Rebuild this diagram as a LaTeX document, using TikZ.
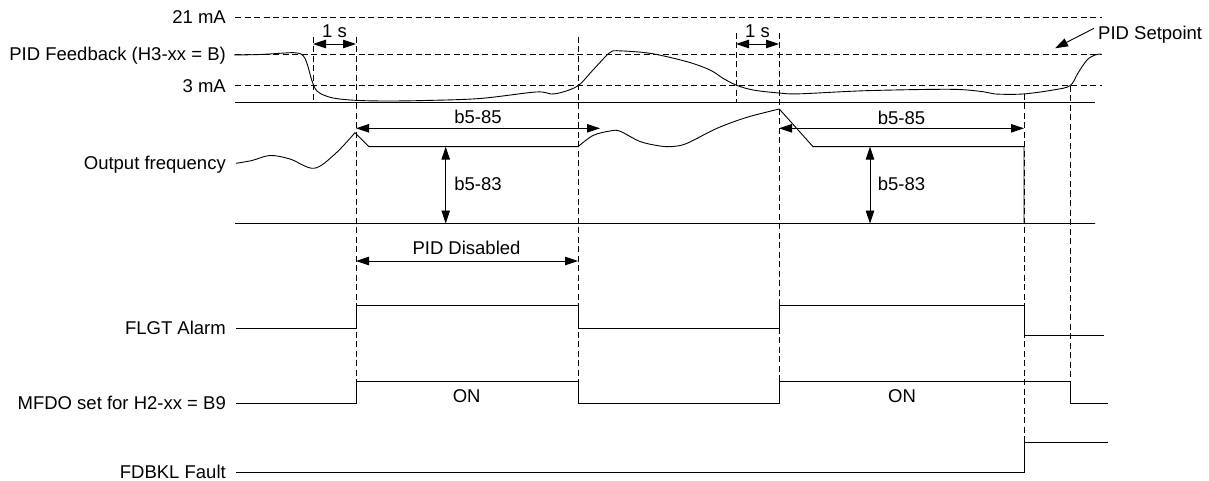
\documentclass[tikz,border=0pt]{standalone}
\usepackage{fontspec}
\setmainfont{Liberation Sans}
\usetikzlibrary{arrows.meta}
\begin{document}
\begin{tikzpicture}[x=1pt,y=-1pt,
  lbl/.style={font=\fontsize{18.5}{22}\selectfont, inner sep=0pt},
  ylbl/.style={lbl, anchor=base east},
  guide/.style={dash pattern=on 6pt off 3.5pt, line width=0.8pt},
  sig/.style={line width=1pt, line join=miter},
  curve/.style={line width=0.9pt, line join=round},
  dimarrow/.style={line width=0.9pt, {Triangle[length=13pt,width=8.5pt]}-{Triangle[length=13pt,width=8.5pt]}},
  onearrow/.style={line width=0.9pt, -{Triangle[length=13pt,width=8.5pt]}},
]
\useasboundingbox (0,0) rectangle (1209,481);

% ---- time markers and levels
\coordinate (t0) at (235,0);
\coordinate (tA) at (313,0);
\coordinate (tB) at (356,0);
\coordinate (tC) at (578,0);
\coordinate (tD) at (736,0);
\coordinate (tE) at (779,0);
\coordinate (tF) at (1024,0);
\coordinate (tG) at (1070,0);
\coordinate (tH) at (1101.5,0);

% ---- level labels
\node[ylbl] (l21)  at (226,23.8) {21 mA};
\node[ylbl] (lfb)  at (226,60.5) {PID Feedback (H3-xx = B)};
\node[ylbl] (l3)   at (226,92.2) {3 mA};
\node[ylbl] (lof)  at (226,169.5) {Output frequency};
\node[ylbl] (lfl)  at (226,334.8) {FLGT Alarm};
\node[ylbl] (lmf)  at (226,409.8) {MFDO set for H2-xx = B9};
\node[ylbl] (lfd)  at (226,478.5) {FDBKL Fault};

% ---- horizontal dashed levels
\coordinate (h21a) at (235,17.3);  \coordinate (h21b) at (1101.5,17.3);
\coordinate (hspa) at (235,54);    \coordinate (hspb) at (1101.5,54);
\coordinate (h3a)  at (235,85.7);  \coordinate (h3b)  at (1101.5,85.7);
\draw[guide] (h21a) -- (h21b);
\draw[guide] (hspa) -- (hspb);
\draw[guide] (h3a) -- (h3b);

% ---- baselines
\coordinate (bfa) at (235,102.5); \coordinate (bfb) at (1095,102.5);
\coordinate (boa) at (235,223.5); \coordinate (bob) at (1095,223.5);
\draw[sig] (bfa) -- (bfb);
\draw[sig] (boa) -- (bob);

% ---- vertical dashed guides
\draw[guide] (tA |- 0,37) -- (tA |- bfa);
\draw[guide] (tB |- 0,37) -- (tB |- 0,381);
\draw[guide] (tC |- 0,37) -- (tC |- 0,381);
\draw[guide] (tD |- 0,33) -- (tD |- bfa);
\draw[guide] (tE |- 0,33) -- (tE |- 0,381);
\draw[guide] (tF |- 0,94) -- (tF |- 0,442);
\draw[guide] (tG |- 0,86) -- (tG |- 0,381);

% ---- PID feedback curve
\draw[curve] plot[smooth, tension=0.55] coordinates {
 (234,55) (260,54.5) (285,53) (294,52.7) (301,54) (305,58.3) (308,66.7)
 (311.7,80) (315,88.3) (320,93.3) (333,98) (355,100.3) (385,101) (425,100.5)
 (480,98.5) (536,92) (551,94) (563,92) (578.3,85.5) (593,70) (607,55) (612,51.5)};
\draw[curve] plot[smooth, tension=0.55] coordinates {
 (612,51.5) (617,50.7) (650,53.3) (687,61.7) (710,70) (723,78.3) (736,85)
 (753,90) (779,93) (800,93.8) (866,90.7) (950,89.3) (983,91.7) (995,94)
 (1023,94) (1053,90) (1070,85.7) (1078,73) (1087,60) (1095,55) (1101,54)};

% ---- output frequency
\draw[curve] plot[smooth, tension=0.55] coordinates {
 (236,163.3) (252,160.5) (270,155.5) (290,159) (314,168.3) (335,154) (355,132.7)};
\draw[curve] (355,132.7) -- (369,146.7) -- (tC |- 0,146.7);
\draw[curve] plot[smooth, tension=0.55] coordinates {
 (578,146.7) (593,135.5) (610,131) (620,131.2) (640,141.5) (660,146) (673,146.5)
 (687,143.3) (717,128.3) (747,117.3) (779.3,109)};
\draw[curve] (779.3,109) -- (813,146.7) -- (tF |- 0,146.7) -- (tF |- bob) -- (bob);

% ---- 1 s arrows
\draw[dimarrow] (tA |- 0,44) -- (tB |- 0,44);
\node[lbl] (s1) at (334.5,31.5) {1 s};
\draw[dimarrow] (tD |- 0,44) -- (tE |- 0,44);
\node[lbl] (s2) at (757.5,31.5) {1 s};

% ---- b5-85 / b5-83
\coordinate (b85e) at (600,128.3);
\draw[dimarrow] (tB |- b85e) -- (b85e);
\node[lbl] (b85a) at (478,117) {b5-85};
\draw[dimarrow] (tE |- b85e) -- (tF |- b85e);
\node[lbl] (b85b) at (901.5,117.5) {b5-85};
\coordinate (b83t1) at (445.7,146.7); \coordinate (b83b1) at (445.7,223.5);
\draw[dimarrow] (b83t1) -- (b83b1);
\node[lbl] (b83a) at (478,183.5) {b5-83};
\coordinate (b83t2) at (870,146.7); \coordinate (b83b2) at (870,223.5);
\draw[dimarrow] (b83t2) -- (b83b2);
\node[lbl] (b83b) at (901.5,184) {b5-83};

% ---- PID Setpoint label
\node[lbl, anchor=base west] (sp) at (1098,39.8) {PID Setpoint};
\coordinate (spt) at (1055,48.3);
\draw[onearrow] (1094,28.3) -- (spt);

% ---- PID Disabled
\draw[dimarrow] (tB |- 0,261) -- (tC |- 0,261);
\node[lbl] (pd) at (466.5,248) {PID Disabled};

% ---- FLGT Alarm
\draw[sig] (lfl.east |- 0,328.3) ++(10,0) coordinate (fl0)
  (fl0) -- (tB |- 0,328.3) -- (tB |- 0,305.7) -- (tC |- 0,305.7) -- (tC |- 0,328.3)
  -- (tE |- 0,328.3) -- (tE |- 0,305.7) -- (tF |- 0,305.7) -- (tF |- 0,335.7) -- (1104.3,335.7);

% ---- MFDO
\draw[sig] (lmf.east |- 0,403.3) ++(10,0) coordinate (mf0)
  (mf0) -- (tB |- 0,403.3) -- (tB |- 0,381) -- (tC |- 0,381) -- (tC |- 0,403.3)
  -- (tE |- 0,403.3) -- (tE |- 0,381) -- (tG |- 0,381) -- (tG |- 0,403.7) -- (1108.3,403.7);
\node[lbl] (on1) at (466.7,396) {ON};
\node[lbl] (on2) at (902,396) {ON};

% ---- FDBKL Fault
\draw[sig] (lfd.east |- 0,472) ++(10,0) coordinate (fd0)
  (fd0) -- (tF |- 0,472) -- (tF |- 0,442) -- (1108.3,442);
\end{tikzpicture}
\end{document}
